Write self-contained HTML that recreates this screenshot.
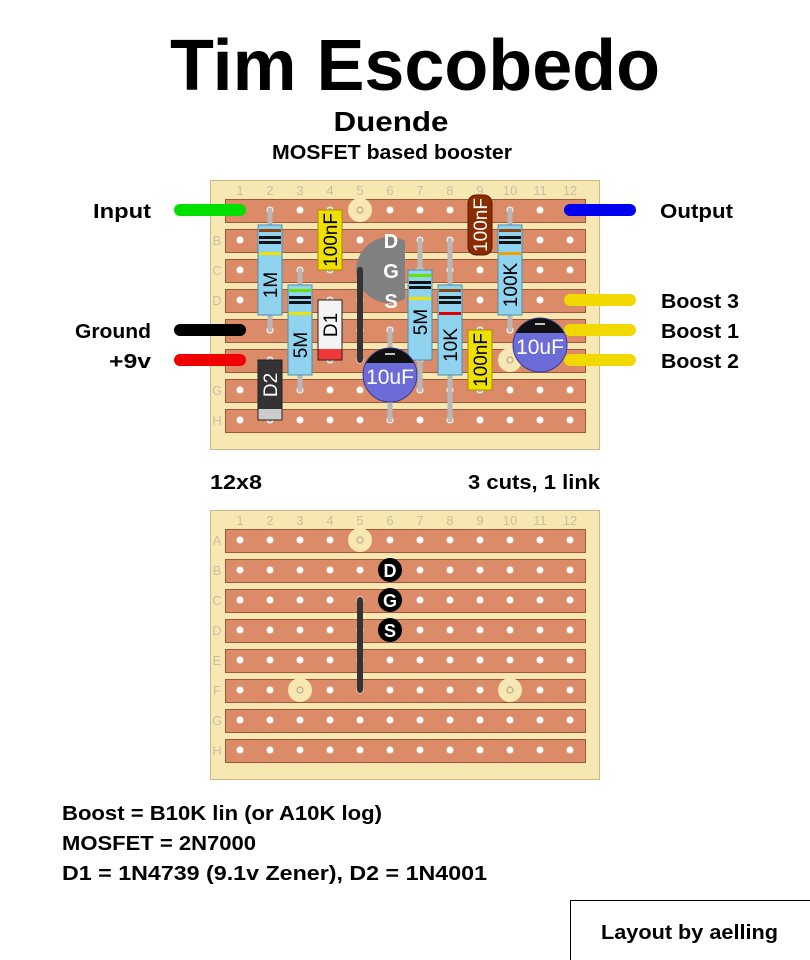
<!DOCTYPE html>
<html><head><meta charset="utf-8"><style>body{margin:0;background:#fff}svg{display:block}text{font-family:"Liberation Sans","DejaVu Sans",sans-serif;font-weight:bold}</style></head><body>
<svg width="810" height="960" viewBox="0 0 810 960" xmlns="http://www.w3.org/2000/svg">
<text x="415" y="90" font-size="72" text-anchor="middle" textLength="490" lengthAdjust="spacingAndGlyphs">Tim Escobedo</text>
<text x="391" y="131" font-size="28" text-anchor="middle" textLength="115" lengthAdjust="spacingAndGlyphs">Duende</text>
<text x="392" y="159" font-size="20" text-anchor="middle" textLength="240" lengthAdjust="spacingAndGlyphs">MOSFET based booster</text>

<g id="board1">
<rect x="210.5" y="180.5" width="389" height="269" fill="#f7e7b3" stroke="#c8b88a"/>
<g fill="#c9c0a0" font-size="13" text-anchor="middle">
<text x="240" y="195" style="font-weight:normal">1</text><text x="270" y="195" style="font-weight:normal">2</text><text x="300" y="195" style="font-weight:normal">3</text><text x="330" y="195" style="font-weight:normal">4</text><text x="360" y="195" style="font-weight:normal">5</text><text x="390" y="195" style="font-weight:normal">6</text><text x="420" y="195" style="font-weight:normal">7</text><text x="450" y="195" style="font-weight:normal">8</text><text x="480" y="195" style="font-weight:normal">9</text><text x="510" y="195" style="font-weight:normal">10</text><text x="540" y="195" style="font-weight:normal">11</text><text x="570" y="195" style="font-weight:normal">12</text>
<text x="217" y="215" style="font-weight:normal">A</text><text x="217" y="245" style="font-weight:normal">B</text><text x="217" y="275" style="font-weight:normal">C</text><text x="217" y="305" style="font-weight:normal">D</text><text x="217" y="335" style="font-weight:normal">E</text><text x="217" y="365" style="font-weight:normal">F</text><text x="217" y="395" style="font-weight:normal">G</text><text x="217" y="425" style="font-weight:normal">H</text>
</g>
<g fill="#db8b68" stroke="#a0583a">
<rect x="225.5" y="199.5" width="360" height="23"/><rect x="225.5" y="229.5" width="360" height="23"/><rect x="225.5" y="259.5" width="360" height="23"/><rect x="225.5" y="289.5" width="360" height="23"/><rect x="225.5" y="319.5" width="360" height="23"/><rect x="225.5" y="349.5" width="360" height="23"/><rect x="225.5" y="379.5" width="360" height="23"/><rect x="225.5" y="409.5" width="360" height="23"/>
</g>
<g fill="#fff">
<g id="hrow"><circle cx="240" cy="0" r="3.5"/><circle cx="270" cy="0" r="3.5"/><circle cx="300" cy="0" r="3.5"/><circle cx="330" cy="0" r="3.5"/><circle cx="360" cy="0" r="3.5"/><circle cx="390" cy="0" r="3.5"/><circle cx="420" cy="0" r="3.5"/><circle cx="450" cy="0" r="3.5"/><circle cx="480" cy="0" r="3.5"/><circle cx="510" cy="0" r="3.5"/><circle cx="540" cy="0" r="3.5"/><circle cx="570" cy="0" r="3.5"/></g>
<use href="#hrow" y="210"/><use href="#hrow" y="240"/><use href="#hrow" y="270"/><use href="#hrow" y="300"/><use href="#hrow" y="330"/><use href="#hrow" y="360"/><use href="#hrow" y="390"/><use href="#hrow" y="420"/>
</g>
</g>
<use href="#board1" y="330"/>
<g fill="#f7e7b3"><circle cx="360" cy="210" r="12"/><circle cx="510" cy="360" r="12"/><circle cx="360" cy="540" r="12"/><circle cx="300" cy="690" r="12"/><circle cx="510" cy="690" r="12"/></g>
<g fill="none" stroke="#b9a98a" stroke-width="1.2"><circle cx="360" cy="210" r="3"/><circle cx="510" cy="360" r="3"/><circle cx="360" cy="540" r="3"/><circle cx="300" cy="690" r="3"/><circle cx="510" cy="690" r="3"/></g>

<g stroke-width="12" stroke-linecap="round">
<line x1="180" y1="210" x2="240" y2="210" stroke="#00e000"/>
<line x1="180" y1="330" x2="240" y2="330" stroke="#000"/>
<line x1="180" y1="360" x2="240" y2="360" stroke="#f00000"/>
<line x1="570" y1="210" x2="630" y2="210" stroke="#0000f0"/>
<line x1="570" y1="300" x2="630" y2="300" stroke="#f0d800"/>
<line x1="570" y1="330" x2="630" y2="330" stroke="#f0d800"/>
<line x1="570" y1="360" x2="630" y2="360" stroke="#f0d800"/>
</g>
<g font-size="20">
<text x="93" y="218" textLength="58" lengthAdjust="spacingAndGlyphs">Input</text>
<text x="75" y="338" textLength="76" lengthAdjust="spacingAndGlyphs">Ground</text>
<text x="109" y="368" textLength="42" lengthAdjust="spacingAndGlyphs">+9v</text>
<text x="660" y="218" textLength="73" lengthAdjust="spacingAndGlyphs">Output</text>
<text x="661" y="308" textLength="78" lengthAdjust="spacingAndGlyphs">Boost 3</text>
<text x="661" y="338" textLength="78" lengthAdjust="spacingAndGlyphs">Boost 1</text>
<text x="661" y="368" textLength="78" lengthAdjust="spacingAndGlyphs">Boost 2</text>
<text x="210" y="489" textLength="52" lengthAdjust="spacingAndGlyphs">12x8</text>
<text x="468" y="489" textLength="132" lengthAdjust="spacingAndGlyphs">3 cuts, 1 link</text>
<text x="62" y="820" textLength="320" lengthAdjust="spacingAndGlyphs">Boost = B10K lin (or A10K log)</text>
<text x="62" y="850" textLength="194" lengthAdjust="spacingAndGlyphs">MOSFET = 2N7000</text>
<text x="62" y="880" textLength="425" lengthAdjust="spacingAndGlyphs">D1 = 1N4739 (9.1v Zener), D2 = 1N4001</text>
</g>
<rect x="570.5" y="900.5" width="245" height="70" fill="none" stroke="#000"/>
<text x="601" y="939" font-size="20" textLength="177" lengthAdjust="spacingAndGlyphs">Layout by aelling</text>

<g stroke="#b8b8b8" stroke-width="5" stroke-linecap="round">
<line x1="270" y1="210" x2="270" y2="330"/>
<line x1="300" y1="270" x2="300" y2="390"/>
<line x1="330" y1="210" x2="330" y2="270"/>
<line x1="330" y1="300" x2="330" y2="360"/>
<line x1="270" y1="360" x2="270" y2="420"/>
<line x1="390" y1="330" x2="390" y2="420"/>
<line x1="420" y1="240" x2="420" y2="390"/>
<line x1="450" y1="240" x2="450" y2="420"/>
<line x1="480" y1="330" x2="480" y2="390"/>
<line x1="510" y1="210" x2="510" y2="330"/>
</g>

<path d="M405 241 A33 33 0 1 0 405 299 Z" fill="#808080"/>
<g fill="#fff" font-size="20" text-anchor="middle"><text x="391" y="248">D</text><text x="391" y="278">G</text><text x="391" y="308">S</text></g>

<line x1="360" y1="270" x2="360" y2="360" stroke="#333" stroke-width="6" stroke-linecap="round"/>
<line x1="360" y1="600" x2="360" y2="690" stroke="#333" stroke-width="6" stroke-linecap="round"/>

<g stroke="#4a8fae" stroke-width="1" fill="#8fd3ef">
<rect x="258" y="225" width="24" height="90"/>
<rect x="288" y="285" width="24" height="90"/>
<rect x="408" y="270" width="24" height="90"/>
<rect x="438" y="285" width="24" height="90"/>
<rect x="498" y="225" width="24" height="90"/>
</g>
<g>
<rect x="259" y="229" width="22" height="3" fill="#8b4513"/><rect x="259" y="236" width="22" height="3" fill="#111"/><rect x="259" y="241" width="22" height="3" fill="#111"/><rect x="259" y="252" width="22" height="3" fill="#f0e000"/>
<rect x="289" y="289" width="22" height="3" fill="#6ce000"/><rect x="289" y="296" width="22" height="3" fill="#111"/><rect x="289" y="301" width="22" height="3" fill="#111"/><rect x="289" y="312" width="22" height="3" fill="#f0e000"/>
<rect x="409" y="274" width="22" height="3" fill="#6ce000"/><rect x="409" y="281" width="22" height="3" fill="#111"/><rect x="409" y="286" width="22" height="3" fill="#111"/><rect x="409" y="297" width="22" height="3" fill="#f0e000"/>
<rect x="439" y="289" width="22" height="3" fill="#8b4513"/><rect x="439" y="296" width="22" height="3" fill="#111"/><rect x="439" y="301" width="22" height="3" fill="#111"/><rect x="439" y="312" width="22" height="3" fill="#e00000"/>
<rect x="499" y="229" width="22" height="3" fill="#8b4513"/><rect x="499" y="236" width="22" height="3" fill="#111"/><rect x="499" y="241" width="22" height="3" fill="#111"/><rect x="499" y="252" width="22" height="3" fill="#f0a000"/>
</g>
<rect x="318" y="210" width="24" height="60" fill="#f0e000" stroke="#a09000"/>
<rect x="468" y="195" width="24" height="60" rx="8" fill="#8b2c00" stroke="#5a1a00"/>
<rect x="468" y="330" width="24" height="60" fill="#f0e000" stroke="#a09000"/>
<rect x="318" y="300" width="24" height="60" fill="#f4f4f4" stroke="#222"/>
<rect x="318.5" y="349" width="23" height="10.5" fill="#f03838"/>
<rect x="258" y="360" width="24" height="60" fill="#333" stroke="#222"/>
<rect x="258.5" y="409" width="23" height="10.5" fill="#ccc"/>
<g>
<circle cx="390" cy="375" r="27" fill="#6c6cd8" stroke="#3a3a90"/>
<path d="M366 363 A27 27 0 0 1 414 363 Z" fill="#111"/>
<line x1="385" y1="354" x2="395" y2="354" stroke="#fff" stroke-width="1.5"/>
<circle cx="540" cy="345" r="27" fill="#6c6cd8" stroke="#3a3a90"/>
<path d="M516 333 A27 27 0 0 1 564 333 Z" fill="#111"/>
<line x1="535" y1="324" x2="545" y2="324" stroke="#fff" stroke-width="1.5"/>
</g>
<g fill="#fff" font-size="21" text-anchor="middle">
<text x="390" y="384" style="font-weight:normal">10uF</text>
<text x="540" y="354" style="font-weight:normal">10uF</text>
</g>
<g font-size="19" text-anchor="middle">
<text transform="translate(277,285) rotate(-90)" fill="#000" style="font-weight:normal">1M</text>
<text transform="translate(307,345) rotate(-90)" fill="#000" style="font-weight:normal">5M</text>
<text transform="translate(427,322) rotate(-90)" fill="#000" style="font-weight:normal">5M</text>
<text transform="translate(457,345) rotate(-90)" fill="#000" style="font-weight:normal">10K</text>
<text transform="translate(517,285) rotate(-90)" fill="#000" style="font-weight:normal">100K</text>
<text transform="translate(337,240) rotate(-90)" fill="#000" style="font-weight:normal">100nF</text>
<text transform="translate(487,225) rotate(-90)" fill="#fff" style="font-weight:normal">100nF</text>
<text transform="translate(487,360) rotate(-90)" fill="#000" style="font-weight:normal">100nF</text>
<text transform="translate(337,325) rotate(-90)" fill="#000" style="font-weight:normal">D1</text>
<text transform="translate(277,385) rotate(-90)" fill="#fff" style="font-weight:normal">D2</text>
</g>
<g fill="#000"><circle cx="390" cy="570" r="12"/><circle cx="390" cy="600" r="12"/><circle cx="390" cy="630" r="12"/></g>
<g fill="#fff" font-size="18" text-anchor="middle"><text x="390" y="577">D</text><text x="390" y="607">G</text><text x="390" y="637">S</text></g>
</svg>
</body></html>
